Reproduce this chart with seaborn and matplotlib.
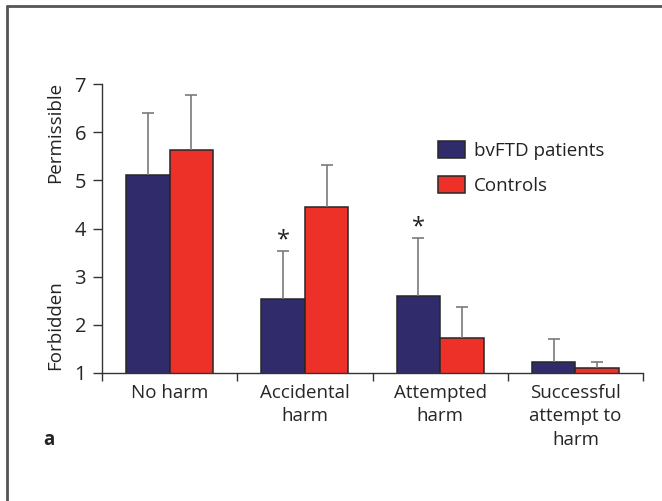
import numpy as np
import pandas as pd
import matplotlib
matplotlib.use('Agg')
import matplotlib.pyplot as plt
import seaborn as sns
from matplotlib.lines import Line2D
from matplotlib.patches import Patch

# data (mean score and upper error bar end)
conditions = ['No harm', 'Accidental\nharm', 'Attempted\nharm', 'Successful\nattempt to\nharm']
groups = ['bvFTD patients', 'Controls']
patients_mean = [5.12, 2.53, 2.60, 1.22]
patients_err = [1.27, 1.01, 1.21, 0.48]
controls_mean = [5.63, 4.44, 1.72, 1.10]
controls_err = [1.15, 0.87, 0.64, 0.12]
significant = [False, True, True, False]  # patients vs controls

colors = ['#302c6c', '#ee3128']

df = pd.DataFrame({
    'condition': conditions * 2,
    'group': [groups[0]] * 4 + [groups[1]] * 4,
    'score': patients_mean + controls_mean,
    'err': patients_err + controls_err,
})

sns.set_style('ticks')
plt.rcParams['font.family'] = ['Open Sans', 'DejaVu Sans']
plt.rcParams['font.size'] = 13
plt.rcParams['text.color'] = '#222222'

fig = plt.figure(figsize=(6.62, 5.01), dpi=100)
ax = fig.add_axes([102 / 662, 1 - 373 / 501, 541 / 662, 289 / 501])

sns.barplot(data=df, x='condition', y='score', hue='group', order=conditions,
            hue_order=groups, palette=colors, width=0.645, errorbar=None,
            edgecolor='#262626', linewidth=1.1, saturation=1, ax=ax, legend=False)

# upward-only error bars, one per bar
for cont, g in zip(ax.containers, groups):
    sub = df[df['group'] == g].set_index('condition').loc[conditions]
    for bar, (_, row) in zip(cont, sub.iterrows()):
        xc = bar.get_x() + bar.get_width() / 2
        eb = ax.errorbar(xc, row['score'], yerr=[[0], [row['err']]], fmt='none',
                         ecolor='#7a7a7a', elinewidth=1.2, capsize=4.5, capthick=1.2,
                         zorder=1)
        eb[1][0].set_visible(False)  # drop the cap sitting on the bar top

# significance stars above patient bars
for bar, sig, m, e in zip(ax.containers[0], significant, patients_mean, patients_err):
    if sig:
        ax.annotate('*', (bar.get_x() + bar.get_width() / 2, m + e),
                    xytext=(0, -1), textcoords='offset points',
                    ha='center', va='bottom', fontsize=17)

ax.set_ylim(1, 7)
ax.set_xlim(-0.5, len(conditions) - 0.5)
ax.set_yticks(range(1, 8))
ax.set_xticks(np.arange(len(conditions)))
ax.set_xticklabels(conditions, linespacing=1.38)
ax.set_xticks(np.arange(-0.5, len(conditions)), minor=True)
ax.tick_params(axis='x', which='major', length=0, pad=8, labelsize=13.5)
ax.tick_params(axis='x', which='minor', length=5.8, width=1, color='#333333', direction='out')
ax.tick_params(axis='y', length=6.5, width=1, color='#333333', pad=5, labelsize=14.5)
ax.set_xlabel('')
ax.set_ylabel('')
sns.despine(ax=ax)
for s in ['left', 'bottom']:
    ax.spines[s].set_color('#333333')
    ax.spines[s].set_linewidth(1)

ytr = ax.get_yaxis_transform()
ax.text(-0.087, 6.0, 'Permissible', rotation=90, ha='center', va='center',
        transform=ytr, fontsize=13.5)
ax.text(-0.087, 2.0, 'Forbidden', rotation=90, ha='center', va='center',
        transform=ytr, fontsize=13.5)

handles = [Patch(facecolor=c, edgecolor='#262626', linewidth=1.1) for c in colors]
fig.legend(handles, groups, loc='upper left', bbox_to_anchor=(438 / 662, 1 - 141 / 501),
           frameon=False, borderpad=0, borderaxespad=0, handlelength=1.45,
           handleheight=1.0, handletextpad=0.45, labelspacing=0.85, fontsize=13.5)

fig.text(49 / 662, 1 - 440 / 501, 'a', weight='bold', ha='center', va='center', fontsize=13.5)

# panel frame (top and left edges)
fig.add_artist(Line2D([7 / 662, 7 / 662], [0, 1 - 6 / 501], transform=fig.transFigure,
                      color='#555555', linewidth=2))
fig.add_artist(Line2D([7 / 662, 1], [1 - 6 / 501, 1 - 6 / 501], transform=fig.transFigure,
                      color='#555555', linewidth=2))

fig.savefig('out.png', dpi=100)
